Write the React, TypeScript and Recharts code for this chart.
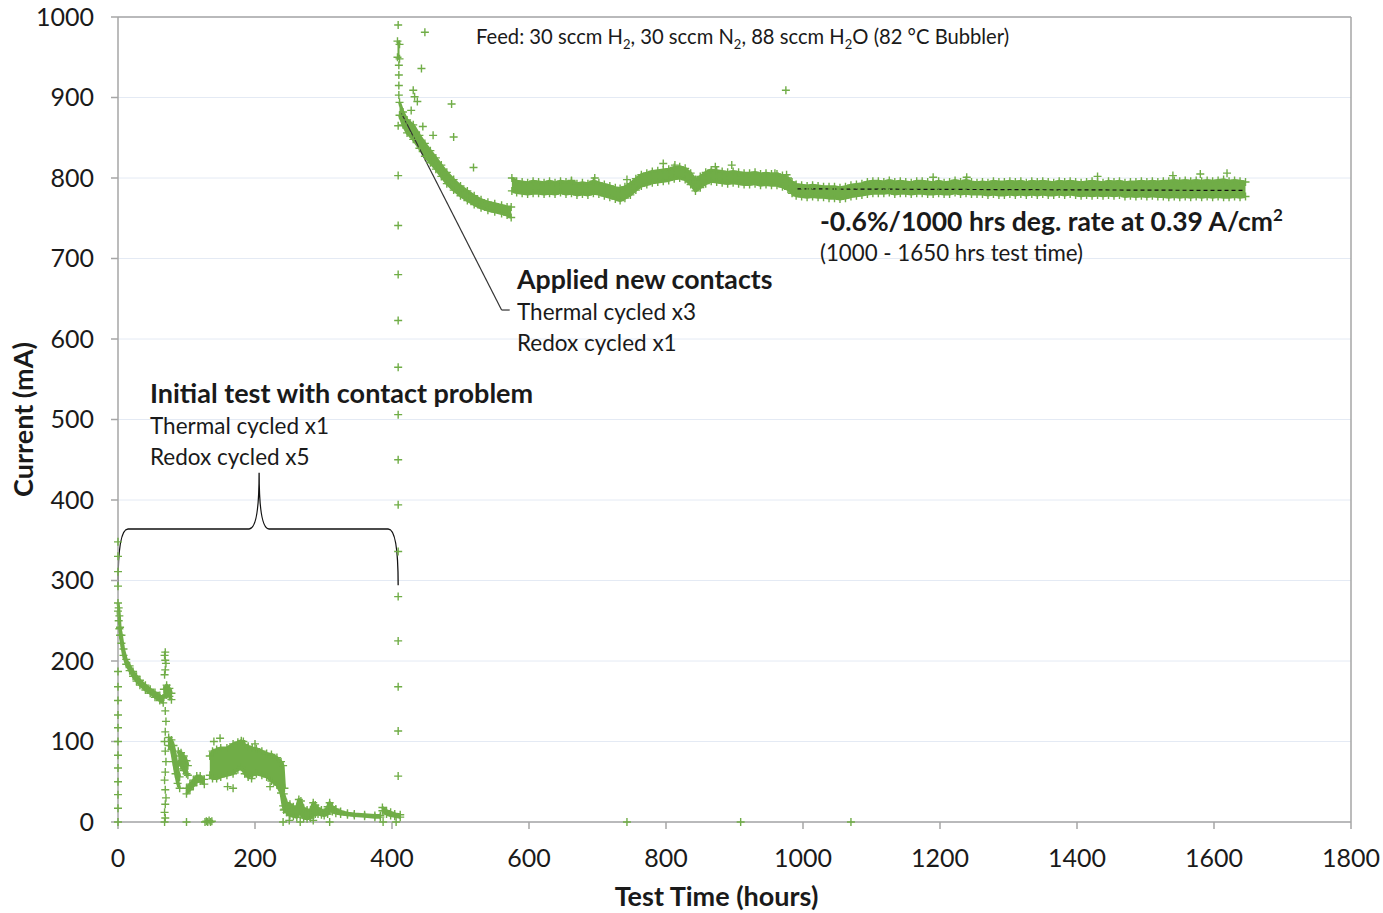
import React from "react";
import {
  ComposedChart,
  XAxis,
  YAxis,
  CartesianGrid,
  Scatter,
  Area,
  ReferenceLine,
  ReferenceArea,
  ReferenceDot,
} from "recharts";

const GREEN = "#70AD47";
const AXIS = "#A6A6A6";
const INK = "#1a1a1a";
const FONT = "Lato, 'Liberation Sans', sans-serif";

const timeTicks = [0, 200, 400, 600, 800, 1000, 1200, 1400, 1600, 1800];
const currentTicks = [0, 100, 200, 300, 400, 500, 600, 700, 800, 900, 1000];

// dense stretches of the logger: [hours, low mA, high mA]
type Band = [number, number, number];

const initialDecay: Band[] = [
  [0, 262, 272], [1, 250, 266], [2, 240, 256], [3, 232, 242], [5, 222, 232],
  [8, 207, 215], [12, 196, 202], [17, 188, 194], [22, 181, 187], [27, 175, 181],
  [32, 170, 176], [40, 164, 170], [47, 160, 165], [54, 155, 161], [61, 151, 157],
  [66, 148, 154],
];

const firstRedoxBump: Band[] = [
  [67, 155, 165], [71, 158, 170], [75, 156, 166], [78, 152, 160],
];

const dropAfterRedox: Band[] = [
  [74, 95, 105], [78, 90, 102], [81, 75, 95], [84, 60, 82], [87, 48, 66], [90, 42, 56],
];

const partialRecovery: Band[] = [
  [88, 72, 88], [92, 70, 86], [96, 64, 82], [100, 60, 76], [102, 58, 70],
];

const slowRise: Band[] = [
  [100, 35, 42], [105, 40, 47], [110, 45, 52], [115, 50, 57], [120, 51, 57], [126, 47, 53],
];

const noisyPlateau: Band[] = [
  [134, 58, 82], [138, 54, 88], [144, 54, 90], [150, 56, 92], [159, 58, 92],
  [168, 60, 97], [175, 65, 99], [180, 68, 101], [185, 60, 96], [190, 56, 94],
  [196, 58, 92], [202, 60, 91], [210, 58, 88], [217, 56, 85], [224, 51, 84],
  [232, 46, 80], [238, 36, 75], [241, 20, 70], [243, 16, 42],
];

const lowCurrentTail: Band[] = [
  [242, 15, 35], [246, 12, 24], [251, 8, 22], [256, 7, 19], [261, 6, 19],
  [264, 10, 28], [267, 10, 26], [271, 5, 17], [276, 4, 15], [281, 5, 15],
  [285, 8, 24], [288, 10, 21], [292, 10, 17], [297, 9, 15], [301, 8, 12],
  [306, 10, 19], [309, 14, 24], [313, 13, 19], [318, 11, 16], [325, 10, 13],
  [335, 9, 11], [345, 8, 10], [360, 7, 9], [375, 6, 8], [383, 6, 8],
];

const lastCycleTail: Band[] = [
  [386, 14, 18], [392, 10, 14], [398, 8, 12], [404, 7, 10], [412, 6, 9],
];

const newContactsPeak: Band[] = [
  [408, 950, 970], [411, 948, 966],
];

const newContactsDecay: Band[] = [
  [411, 878, 894], [416, 866, 882], [422, 856, 872], [431, 848, 866], [440, 837, 853],
  [448, 827, 843], [456, 819, 834], [464, 811, 825], [472, 802, 816], [480, 793, 807],
  [490, 785, 798], [500, 778, 790], [510, 772, 784], [520, 767, 778], [530, 763, 773],
  [540, 760, 770], [550, 758, 768], [560, 756, 766], [568, 754, 764], [574, 751, 764],
];

const stableRun: Band[] = [
  [575, 784, 800], [582, 782, 796], [590, 781, 795], [598, 780, 794], [606, 781, 796],
  [614, 781, 795], [622, 780, 794], [630, 781, 796], [638, 780, 794], [646, 782, 796],
  [654, 780, 795], [662, 781, 796], [670, 779, 793], [678, 780, 794], [686, 779, 793],
  [694, 781, 796], [702, 780, 794], [710, 778, 792], [718, 776, 790], [726, 774, 788],
  [733, 772, 787], [740, 775, 789], [748, 779, 793], [756, 785, 799], [764, 790, 804],
  [772, 792, 806], [780, 794, 808], [788, 795, 809], [796, 796, 810], [804, 797, 811],
  [812, 799, 813], [820, 800, 814], [828, 798, 812], [836, 792, 806], [843, 784, 798],
  [850, 788, 802], [858, 793, 807], [866, 796, 810], [874, 795, 809], [882, 794, 808],
  [890, 793, 807], [898, 794, 808], [906, 793, 807], [914, 792, 806], [922, 792, 806],
  [930, 793, 807], [938, 791, 805], [946, 792, 806], [954, 791, 805], [962, 791, 805],
  [970, 789, 803], [978, 786, 800], [984, 781, 795], [990, 778, 792], [998, 777, 791],
  [1006, 776, 790], [1014, 777, 791], [1022, 776, 790], [1030, 776, 789], [1038, 775, 789],
  [1046, 775, 789], [1054, 774, 788], [1062, 775, 789], [1070, 777, 791], [1078, 778, 792],
  [1086, 779, 793], [1094, 780, 795], [1102, 781, 796], [1110, 781, 796], [1118, 781, 795],
  [1126, 782, 797], [1134, 780, 795], [1142, 781, 796], [1150, 781, 795], [1158, 780, 794],
  [1166, 781, 796], [1174, 781, 796], [1182, 780, 795], [1190, 780, 794], [1198, 781, 796],
  [1206, 780, 794], [1214, 780, 795], [1222, 782, 797], [1230, 780, 795], [1238, 781, 797],
  [1246, 780, 795], [1254, 780, 794], [1262, 780, 795], [1270, 779, 794], [1278, 780, 796],
  [1286, 779, 795], [1294, 779, 795], [1302, 780, 796], [1310, 779, 795], [1318, 780, 796],
  [1326, 779, 794], [1334, 780, 796], [1342, 779, 795], [1350, 780, 796], [1358, 779, 795],
  [1366, 779, 794], [1374, 780, 796], [1382, 779, 795], [1390, 780, 796], [1398, 779, 795],
  [1406, 778, 794], [1414, 779, 795], [1422, 778, 796], [1430, 779, 795], [1438, 778, 794],
  [1446, 779, 796], [1454, 778, 795], [1462, 779, 796], [1470, 777, 794], [1478, 778, 795],
  [1486, 777, 795], [1494, 778, 796], [1502, 777, 795], [1510, 778, 796], [1518, 777, 795],
  [1526, 777, 796], [1534, 776, 796], [1542, 777, 797], [1550, 776, 796], [1558, 777, 797],
  [1566, 776, 796], [1574, 777, 797], [1582, 776, 796], [1590, 777, 797], [1598, 776, 796],
  [1606, 777, 797], [1614, 776, 798], [1622, 776, 796], [1630, 777, 797], [1638, 776, 796],
  [1646, 777, 795],
];

// isolated readings: start-up ramps, shutdowns, spikes [hours, mA]
const strayReadings: [number, number][] = [
  [0, 0], [0, 17], [0, 34], [0, 50], [0, 67], [0, 83], [0, 100], [0, 117], [0, 133],
  [0, 151], [0, 168], [0, 187], [0, 293], [0, 311], [0, 330], [0, 348],
  [68, 0], [69, 5], [68, 12], [69, 22], [70, 30], [69, 40], [68, 52], [69, 62], [70, 75],
  [69, 88], [68, 100], [69, 112], [70, 125], [69, 138], [68, 183], [69, 189], [70, 197],
  [69, 201], [68, 207], [69, 211],
  [100, 0], [127, 0], [129, 1], [131, 0], [133, 2], [135, 0], [137, 1],
  [241, 0], [250, 2], [266, 0], [285, 2], [309, 0], [387, 0], [406, 0],
  [149, 104], [160, 44], [168, 42], [183, 100], [195, 54], [222, 44], [140, 100], [200, 97],
  [409, 57], [409, 113], [409, 168], [409, 225], [409, 280], [409, 336], [409, 394],
  [409, 450], [409, 506], [409, 565], [409, 623], [409, 680], [409, 741], [409, 803],
  [409, 865], [409, 990],
  [410, 940], [410, 928], [410, 915], [410, 903], [431, 909], [448, 981], [443, 936],
  [487, 892], [490, 851], [519, 813], [460, 853], [445, 864], [437, 895], [433, 901],
  [428, 884],
  [975, 909], [662, 797], [696, 800], [743, 798], [796, 818], [813, 816], [872, 814],
  [896, 816], [959, 806], [976, 804], [1239, 801], [1619, 806], [1190, 801], [1430, 802],
  [1540, 803], [1580, 805],
  [743, 0], [909, 0], [1070, 0],
];

const bands: Band[][] = [
  initialDecay, firstRedoxBump, dropAfterRedox, partialRecovery, slowRise,
  noisyPlateau, lowCurrentTail, lastCycleTail, newContactsPeak, newContactsDecay, stableRun,
];

const bandRows = (b: Band[]) => b.map(([t, lo, hi]) => ({ t, range: [lo, hi] }));
const edgePoints = bands.flatMap((b) =>
  b.flatMap(([t, lo, hi]) => [{ t, i: lo }, { t, i: hi }])
);
const loosePoints = strayReadings.map(([t, i]) => ({ t, i }));

// Excel-style "+" marker
const Plus = (p: any) => {
  const { cx, cy } = p;
  if (cx == null || cy == null) return <g />;
  return (
    <path
      d={`M${cx - 4},${cy}h8M${cx},${cy - 4}v8`}
      stroke={GREEN}
      strokeWidth={1.4}
      fill="none"
    />
  );
};

// curly brace spanning the first test period, cusp at the peak hour
const BRACE_PEAK = 206;
const Brace = (p: any) => {
  const { x, y, width, height } = p;
  const x1 = x + width;
  const bottom = y + height;
  const mid = y + height / 2;
  const px = x + (width * BRACE_PEAK) / 409;
  const r = 10;
  const d = [
    `M${x},${bottom}`,
    `Q${x},${mid} ${x + r},${mid}`,
    `L${px - r},${mid}`,
    `Q${px},${mid} ${px},${y}`,
    `Q${px},${mid} ${px + r},${mid}`,
    `L${x1 - r},${mid}`,
    `Q${x1},${mid} ${x1},${bottom}`,
  ].join(" ");
  return <path d={d} stroke="#111" strokeWidth={1.3} fill="none" />;
};

const note =
  (content: React.ReactNode, size: number, bold = false) =>
  (p: any) =>
    (
      <text
        x={p.cx}
        y={p.cy}
        fontFamily={FONT}
        fontSize={size}
        fontWeight={bold ? 700 : 400}
        fill={INK}
      >
        {content}
      </text>
    );

const feedText = (
  <>
    Feed: 30 sccm H
    <tspan dy={5} fontSize={13}>2</tspan>
    <tspan dy={-5}>, 30 sccm N</tspan>
    <tspan dy={5} fontSize={13}>2</tspan>
    <tspan dy={-5}>, 88 sccm H</tspan>
    <tspan dy={5} fontSize={13}>2</tspan>
    <tspan dy={-5}>O (82 °C Bubbler)</tspan>
  </>
);

const rateText = (
  <>
    -0.6%/1000 hrs deg. rate at 0.39 A/cm
    <tspan dy={-10} fontSize={17}>2</tspan>
  </>
);

const tickStyle = { fontSize: 25, fill: INK, fontFamily: FONT };

export default function App() {
  return (
    <div style={{ position: "absolute", left: 0, top: 0, background: "#fff" }}>
      <ComposedChart
        width={1383}
        height={913}
        margin={{ top: 17, right: 32, bottom: 31, left: 0 }}
      >
        <CartesianGrid vertical={false} stroke="#E4EAF4" strokeWidth={1} />
        <XAxis
          type="number"
          dataKey="t"
          domain={[0, 1800]}
          ticks={timeTicks}
          height={60}
          tick={tickStyle}
          tickSize={7}
          tickMargin={20}
          axisLine={{ stroke: AXIS, strokeWidth: 1.5 }}
          tickLine={{ stroke: AXIS, strokeWidth: 1.5 }}
          label={{
            content: (lp: any) => {
              const vb = lp.viewBox;
              return (
                <text
                  x={vb.x + vb.width / 2 - 18}
                  y={vb.y + 84}
                  textAnchor="middle"
                  fontFamily={FONT}
                  fontSize={27}
                  fontWeight={700}
                  fill={INK}
                >
                  Test Time (hours)
                </text>
              );
            },
          }}
        />
        <YAxis
          type="number"
          domain={[0, 1000]}
          ticks={currentTicks}
          width={118}
          tick={tickStyle}
          tickSize={7}
          tickMargin={17}
          axisLine={{ stroke: AXIS, strokeWidth: 1.5 }}
          tickLine={{ stroke: AXIS, strokeWidth: 1.5 }}
          label={{
            content: (lp: any) => {
              const vb = lp.viewBox;
              const cx = vb.x + 22;
              const cy = vb.y + vb.height / 2;
              return (
                <text
                  x={cx}
                  y={cy}
                  transform={`rotate(-90 ${cx} ${cy})`}
                  textAnchor="middle"
                  dominantBaseline="central"
                  fontFamily={FONT}
                  fontSize={27}
                  fontWeight={700}
                  fill={INK}
                >
                  Current (mA)
                </text>
              );
            },
          }}
        />
        <ReferenceLine y={1000} stroke={AXIS} strokeWidth={1.5} />
        <ReferenceLine x={1800} stroke={AXIS} strokeWidth={1.5} />

        {bands.map((b, k) => (
          <Area
            key={k}
            data={bandRows(b)}
            dataKey="range"
            type="linear"
            stroke={GREEN}
            strokeWidth={3}
            strokeLinejoin="round"
            fill={GREEN}
            fillOpacity={1}
            dot={false}
            activeDot={false}
            isAnimationActive={false}
          />
        ))}
        <Scatter data={edgePoints} dataKey="i" shape={Plus} isAnimationActive={false} />
        <Scatter data={loosePoints} dataKey="i" shape={Plus} isAnimationActive={false} />

        <ReferenceArea x1={0} x2={409} y1={294} y2={434} shape={Brace} />
        <ReferenceLine
          segment={[{ x: 414, y: 880 }, { x: 560, y: 636 }]}
          stroke="#333"
          strokeWidth={1.2}
        />
        <ReferenceLine
          segment={[{ x: 560, y: 636 }, { x: 572, y: 636 }]}
          stroke="#333"
          strokeWidth={1.2}
        />
        <ReferenceLine
          segment={[{ x: 992, y: 786.5 }, { x: 1646, y: 784.5 }]}
          stroke="#111"
          strokeWidth={1.2}
          strokeDasharray="4 3"
        />

        <ReferenceDot x={522.6} y={966} shape={note(feedText, 20.2)} />
        <ReferenceDot x={46.7} y={520.5} shape={note("Initial test with contact problem", 27, true)} />
        <ReferenceDot x={46.7} y={482} shape={note("Thermal cycled x1", 22.5)} />
        <ReferenceDot x={46.7} y={443.5} shape={note("Redox cycled x5", 22.5)} />
        <ReferenceDot x={582.5} y={662} shape={note("Applied new contacts", 26.7, true)} />
        <ReferenceDot x={582.5} y={623.6} shape={note("Thermal cycled x3", 22.5)} />
        <ReferenceDot x={582.5} y={585} shape={note("Redox cycled x1", 22.5)} />
        <ReferenceDot x={1024.8} y={734} shape={note(rateText, 26.5, true)} />
        <ReferenceDot x={1024.8} y={697} shape={note("(1000 - 1650 hrs test time)", 22.3)} />
      </ComposedChart>
    </div>
  );
}
